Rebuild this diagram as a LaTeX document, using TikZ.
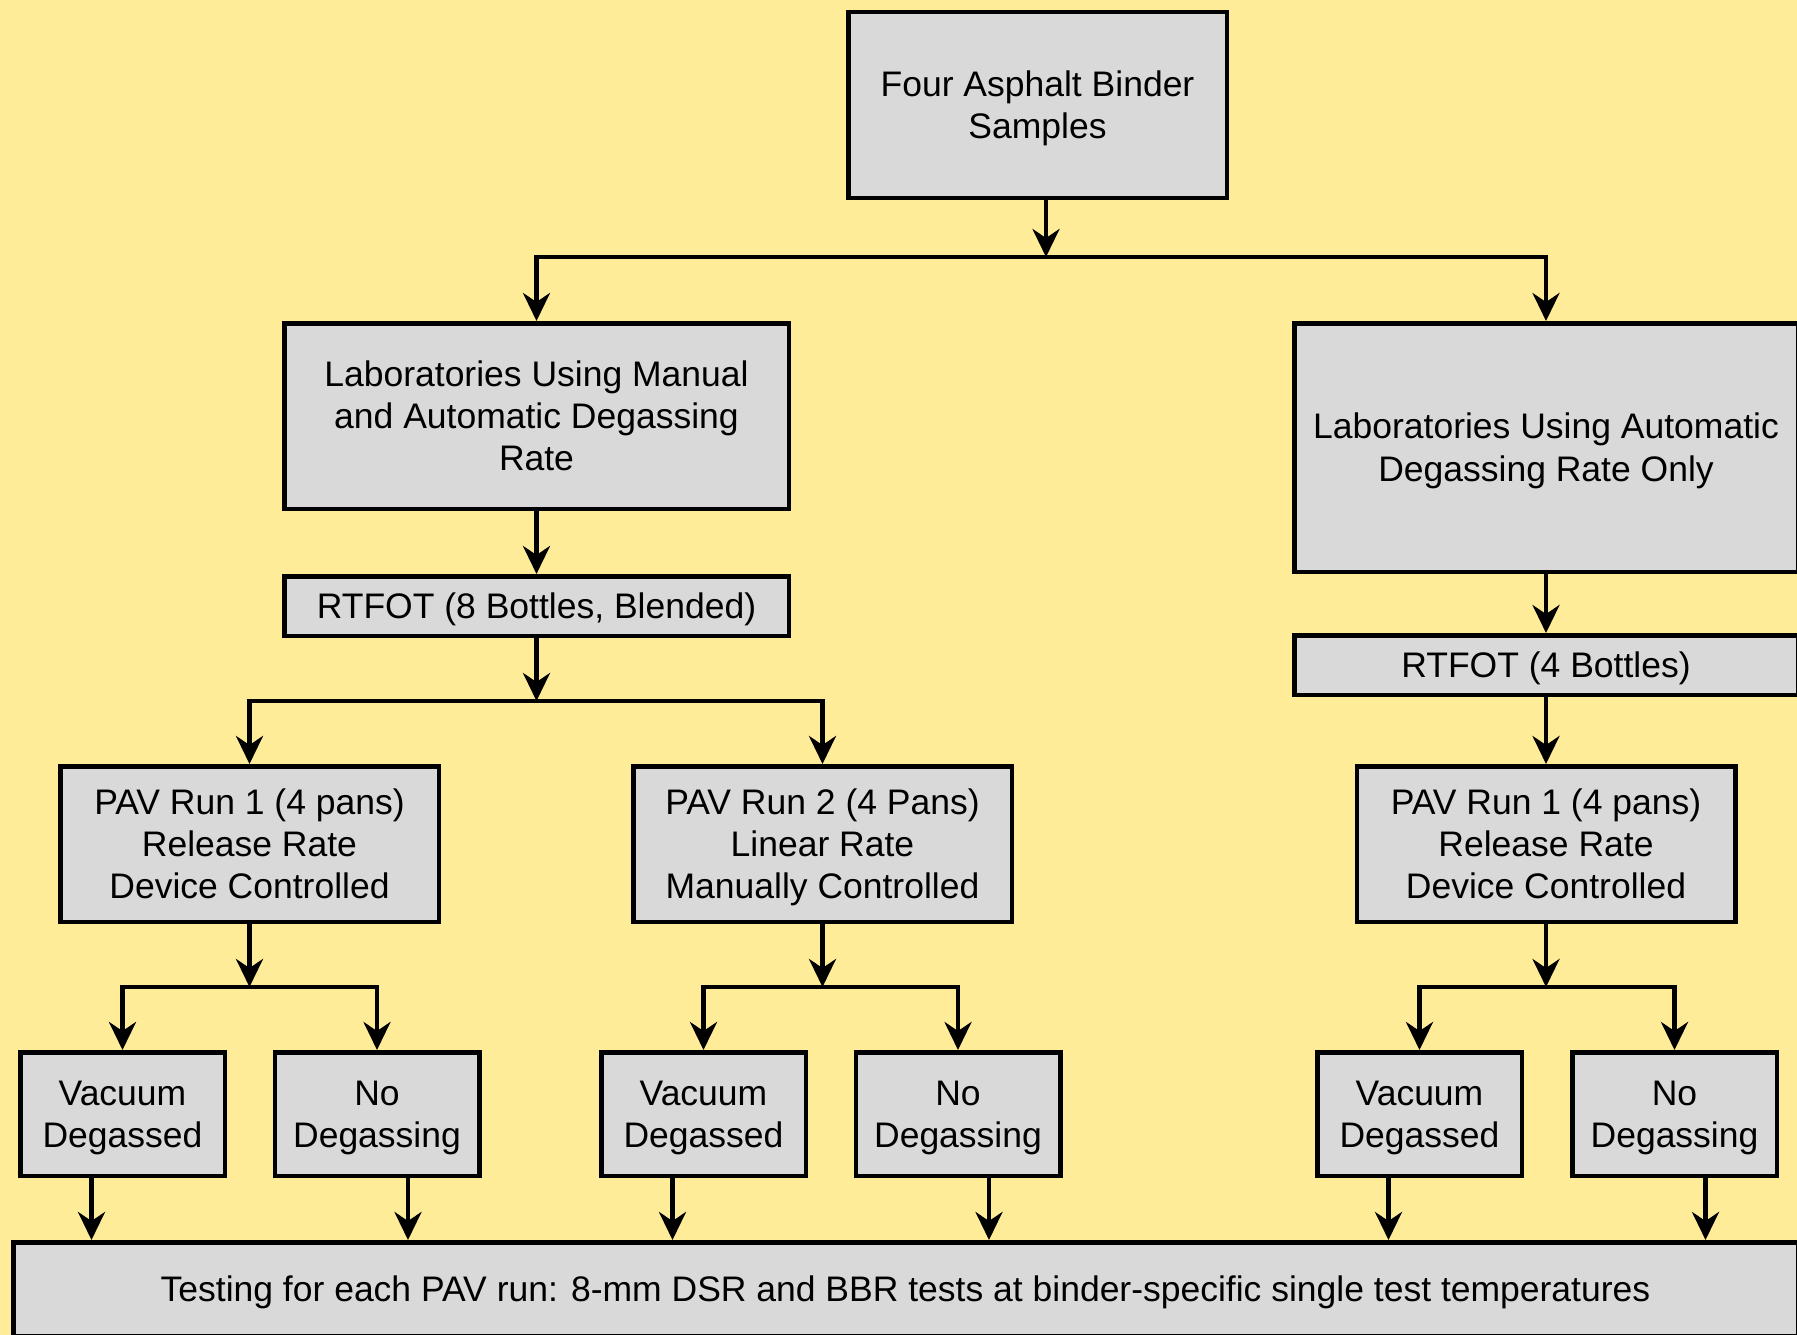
\documentclass[tikz,border=0pt]{standalone}
\usepackage{fontspec}
\setmainfont{Liberation Sans}
\usetikzlibrary{arrows.meta}
\definecolor{bgyellow}{RGB}{255,236,153}
\definecolor{boxgray}{RGB}{217,217,217}
\newcommand\tstr{\rule{0pt}{36pt}}
\newcommand\bstr{\rule[-11pt]{0pt}{11pt}}
\begin{document}
\begin{tikzpicture}[x=1pt,y=-1pt,
  box/.style={draw=black, line width=4.5pt, fill=boxgray, rectangle, inner sep=0pt, align=center, font=\fontsize{35.5}{42.4}\selectfont},
  pavbox/.style={box, minimum width=378.5pt, minimum height=155.5pt},
  leafbox/.style={box, minimum width=204.5pt, minimum height=123.5pt},
  tip/.tip={Stealth[length=28pt,width=27pt,inset=9pt]},
  arr/.style={line width=4.2pt, -tip},
  fork/.style={line width=4.2pt, tip-tip, line join=miter}]
\useasboundingbox (0,0) rectangle (1797,1335);
\clip (0,0) rectangle (1797,1335);
\fill[bgyellow] (0,0) rectangle (1797,1335);

% nodes
\node[box, minimum width=378.5pt, minimum height=185.5pt] (top) at (1037.5,105) {\tstr Four Asphalt Binder\\Samples\bstr};
\coordinate (j1) at (1046,257);

\node[box, minimum width=504.5pt, minimum height=185.5pt] (lab1) at (536.5,416) {\raisebox{0pt}{}\tstr Laboratories Using Manual\\and Automatic Degassing\\Rate\bstr};
\node[box, minimum width=503.5pt, minimum height=248.5pt] (lab2) at (1546,447.5) {\tstr Laboratories Using Automatic\\Degassing Rate Only\bstr};

\node[box, minimum width=504.5pt, minimum height=59.5pt] (rt1) at (536.5,606) {\tstr\bstr RTFOT (8 Bottles, Blended)};
\node[box, minimum width=503.5pt, minimum height=59.5pt] (rt2) at (1546,665) {\tstr\bstr RTFOT (4 Bottles)};
\coordinate (j2) at (536.5,701);

\node[pavbox] (pav1) at (249.5,844) {\tstr PAV Run 1 (4 pans)\\Release Rate\\Device Controlled\bstr};
\node[pavbox] (pav2) at (822.5,844) {\tstr PAV Run 2 (4 Pans)\\Linear Rate\\Manually Controlled\bstr};
\node[pavbox] (pav3) at (1546,844) {\tstr PAV Run 1 (4 pans)\\Release Rate\\Device Controlled\bstr};
\coordinate (j3) at (249.5,987);
\coordinate (j4) at (822.5,987);
\coordinate (j5) at (1546,987);

\node[leafbox] (v1) at (122.5,1114) {\tstr Vacuum\\Degassed\bstr};
\node[leafbox] (n1) at (377,1114) {\tstr No\\Degassing\bstr};
\node[leafbox] (v2) at (703.5,1114) {\tstr Vacuum\\Degassed\bstr};
\node[leafbox] (n2) at (958,1114) {\tstr No\\Degassing\bstr};
\node[leafbox] (v3) at (1419.5,1114) {\tstr Vacuum\\Degassed\bstr};
\node[leafbox] (n3) at (1674.5,1114) {\tstr No\\Degassing\bstr};

\node[box, minimum width=1784.5pt, minimum height=93.5pt] (test) at (905.5,1289) {\raisebox{4pt}{\tstr\bstr Testing for each PAV run: 8-mm DSR and BBR tests at binder-specific single test temperatures}};

% connectors
\draw[arr] (top.south -| j1) -- (j1);
\draw[fork] (lab1.north) -- (lab1.north |- j1) -- (lab2.north |- j1) -- (lab2.north);

\draw[arr] (lab1) -- (rt1);
\draw[arr] (rt1) -- (j2);
\draw[fork] (pav1.north) -- (pav1.north |- j2) -- (pav2.north |- j2) -- (pav2.north);

\draw[arr] (lab2) -- (rt2);
\draw[arr] (rt2) -- (pav3);

\draw[arr] (pav1) -- (j3);
\draw[fork] (v1.north) -- (v1.north |- j3) -- (n1.north |- j3) -- (n1.north);
\draw[arr] (pav2) -- (j4);
\draw[fork] (v2.north) -- (v2.north |- j4) -- (n2.north |- j4) -- (n2.north);
\draw[arr] (pav3) -- (j5);
\draw[fork] (v3.north) -- (v3.north |- j5) -- (n3.north |- j5) -- (n3.north);

\foreach \n/\d in {v1/-31, n1/31, v2/-31, n2/31, v3/-31, n3/31}{
  \draw[arr] ([xshift=\d pt]\n.south) -- ([xshift=\d pt]\n.south |- test.north);
}
\end{tikzpicture}
\end{document}
